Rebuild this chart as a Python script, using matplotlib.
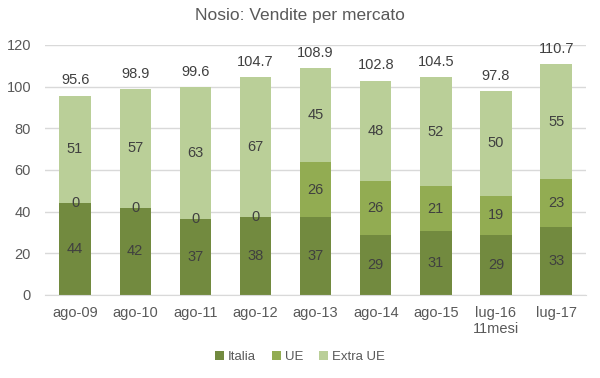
import numpy as np
import matplotlib.pyplot as plt

plt.rcParams['font.family'] = ['Liberation Sans', 'DejaVu Sans']

categories = ['ago-09', 'ago-10', 'ago-11', 'ago-12', 'ago-13', 'ago-14', 'ago-15', 'lug-16\n11mesi', 'lug-17']
italia = [44.2, 41.8, 36.6, 37.5, 37.4, 28.9, 30.8, 28.9, 32.6]
ue = [0, 0, 0, 0, 26.3, 25.6, 21.3, 18.7, 23.0]
extra_ue = [51.4, 57.1, 63.0, 67.2, 45.2, 48.3, 52.4, 50.2, 55.1]
totals = [95.6, 98.9, 99.6, 104.7, 108.9, 102.8, 104.5, 97.8, 110.7]

c_it = '#728A3F'
c_ue = '#92AC52'
c_ex = '#BACF98'
txt = '#404040'

fig = plt.figure(figsize=(6, 3.78), dpi=100)
ax = fig.add_axes([0.075, 0.22, 0.902, 0.661])

x = np.arange(len(categories))
w = 0.52
b1 = ax.bar(x, italia, w, color=c_it, label='Italia', zorder=2)
b2 = ax.bar(x, ue, w, bottom=italia, color=c_ue, label='UE', zorder=2)
bottom2 = np.array(italia) + np.array(ue)
b3 = ax.bar(x, extra_ue, w, bottom=bottom2, color=c_ex, label='Extra UE', zorder=2)

for b in (b1, b2, b3):
    ax.bar_label(b, fmt='%.0f', label_type='center', color=txt, fontsize=10.5)

for xi, t in zip(x, totals):
    ax.annotate(f'{t:.1f}', (xi, t), xytext=(0, 6), textcoords='offset points',
                ha='center', va='bottom', color=txt, fontsize=10.5)

ax.set_ylim(0, 120)
ax.set_xlim(-0.5, len(categories) - 0.5)
ax.set_yticks(range(0, 121, 20))
ax.set_xticks(x)
ax.set_xticklabels(categories)
ax.tick_params(axis='both', length=0, colors='#595959', labelsize=10.5)
ax.tick_params(axis='x', pad=8)
ax.tick_params(axis='y', pad=10)
ax.yaxis.grid(True, color='#D9D9D9', linewidth=1, zorder=0)
for s in ('top', 'right', 'left'):
    ax.spines[s].set_visible(False)
ax.spines['bottom'].set_color('#D9D9D9')

fig.text(0.5, 0.958, 'Nosio: Vendite per mercato', ha='center', va='center',
         color='#595959', fontsize=12.5)

fig.legend(loc='center', bbox_to_anchor=(0.5, 0.055), ncol=3, frameon=False,
           fontsize=9.5, handlelength=0.7, handleheight=0.7, handletextpad=0.3,
           columnspacing=1.2, labelcolor='#595959')

fig.savefig('out.png', dpi=100)
